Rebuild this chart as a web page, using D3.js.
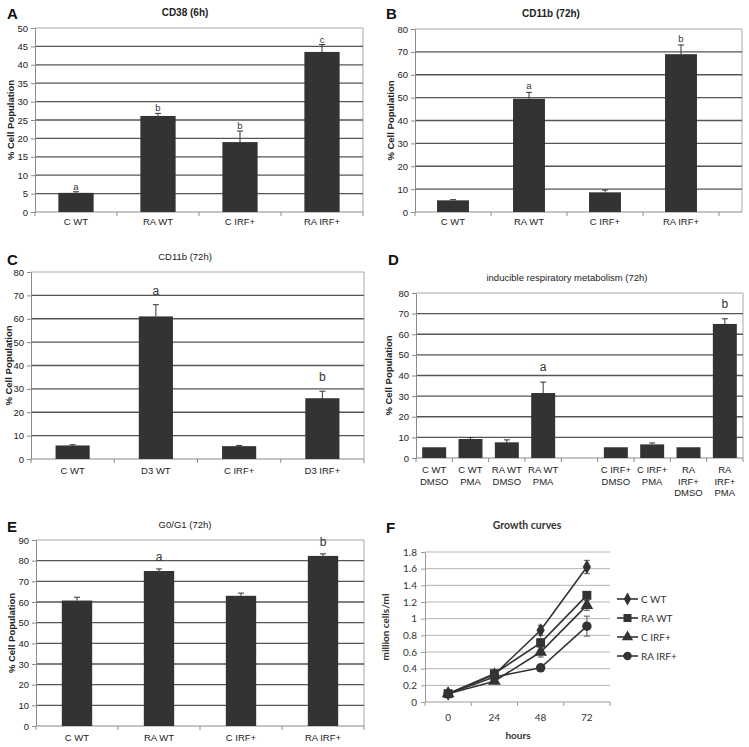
<!DOCTYPE html>
<html><head><meta charset="utf-8">
<script src="https://cdn.jsdelivr.net/npm/d3@7"></script>
<style>body{margin:0;background:#fff}</style></head>
<body>
<script>
// ---------- DATA ----------
const catsA = ["C WT", "RA WT", "C IRF+", "RA IRF+"];
const valsA = [5.2, 26.1, 19.0, 43.5];
const errA  = [0.3, 0.7, 3.0, 2.0];
const sigA  = ["a", "b", "b", "c"];
const ticksA = [0, 5, 10, 15, 20, 25, 30, 35, 40, 45, 50];

const catsB = ["C WT", "RA WT", "C IRF+", "RA IRF+"];
const valsB = [5.1, 49.5, 8.6, 69.0];
const errB  = [0.3, 2.8, 1.0, 4.0];
const sigB  = ["", "a", "", "b"];
const ticksB = [0, 10, 20, 30, 40, 50, 60, 70, 80];

const catsC = ["C WT", "D3 WT", "C IRF+", "D3 IRF+"];
const valsC = [5.8, 61.0, 5.5, 26.0];
const errC  = [0.3, 5.0, 0.3, 3.0];
const sigC  = ["", "a", "", "b"];
const ticksC = [0, 10, 20, 30, 40, 50, 60, 70, 80];

const catsD = ["C WT\nDMSO", "C WT\nPMA", "RA WT\nDMSO", "RA WT\nPMA", "",
               "C IRF+\nDMSO", "C IRF+\nPMA", "RA\nIRF+\nDMSO", "RA\nIRF+\nPMA"];
const valsD = [5.2, 9.2, 7.6, 31.5, null, 5.2, 6.6, 5.2, 65.0];
const errD  = [0, 0.7, 1.2, 5.3, null, 0, 0.7, 0, 2.5];
const sigD  = ["", "", "", "a", "", "", "", "", "b"];
const ticksD = [0, 10, 20, 30, 40, 50, 60, 70, 80];

const catsE = ["C WT", "RA WT", "C IRF+", "RA IRF+"];
const valsE = [60.7, 75.0, 63.0, 82.3];
const errE  = [1.6, 1.0, 1.3, 1.0];
const sigE  = ["", "a", "", "b"];
const ticksE = [0, 10, 20, 30, 40, 50, 60, 70, 80, 90];

const hoursF = ["0", "24", "48", "72"];
const seriesF = ["C WT", "RA WT", "C IRF+", "RA IRF+"];
const cWT    = [0.10, 0.33, 0.86, 1.62];
const cWTerr = [0.01, 0.02, 0.06, 0.08];
const raWT    = [0.10, 0.34, 0.71, 1.28];
const raWTerr = [0.01, 0.02, 0.05, 0.04];
const cIRF    = [0.10, 0.25, 0.60, 1.16];
const cIRFerr = [0.01, 0.02, 0.06, 0.06];
const raIRF    = [0.10, 0.30, 0.41, 0.91];
const raIRFerr = [0.01, 0.02, 0.03, 0.12];
const ticksF = [0, 0.2, 0.4, 0.6, 0.8, 1, 1.2, 1.4, 1.6, 1.8];
const tickLabelsF = ["0", "0.2", "0.4", "0.6", "0.8", "1", "1.2", "1.4", "1.6", "1.8"];

// ---------- DRAW ----------
const FONT = "'Liberation Sans', Arial, sans-serif";
const svg = d3.select("body").append("svg").attr("width", 749).attr("height", 747)
  .style("font-family", FONT);
const BAR = "#333333", GRID = "#555555", BORDER = "#a8a8a8", AXIS = "#8a8a8a";

function barPanel(o) {
  const g = svg.append("g");
  const n = o.cats.length;
  const x = d3.scaleBand().domain(d3.range(n)).range([o.x0, o.xb]).padding(0);
  const y = d3.scaleLinear().domain([0, o.ticks[o.ticks.length - 1]]).range([o.y1, o.y0]);
  g.append("path").attr("d", `M${o.x0},${o.y0}H${o.x1}V${o.y1}`)
    .attr("fill", "none").attr("stroke", BORDER).attr("stroke-width", 1);
  g.selectAll(".gl").data(o.ticks.slice(1, -1)).join("line")
    .attr("x1", o.x0).attr("x2", o.x1)
    .attr("y1", d => y(d)).attr("y2", d => y(d))
    .attr("stroke", GRID).attr("stroke-width", 1.3);
  const ya = g.append("g").attr("transform", `translate(${o.x0},0)`)
    .call(d3.axisLeft(y).tickValues(o.ticks).tickSize(4).tickPadding(3).tickSizeOuter(0));
  ya.select(".domain").attr("stroke", AXIS);
  ya.selectAll(".tick line").attr("stroke", AXIS);
  ya.selectAll(".tick text").attr("font-size", 9.5).attr("fill", "#222").attr("font-family", FONT);
  g.append("line").attr("x1", o.x0).attr("x2", o.x1).attr("y1", o.y1).attr("y2", o.y1)
    .attr("stroke", AXIS);
  g.selectAll(".xt").data(d3.range(n + 1)).join("line")
    .attr("x1", i => o.x0 + i * x.step()).attr("x2", i => o.x0 + i * x.step())
    .attr("y1", o.y1).attr("y2", o.y1 + 4).attr("stroke", AXIS);
  const bw = x.bandwidth() * o.barFrac;
  const idx = d3.range(n).filter(i => o.vals[i] != null);
  g.selectAll(".bar").data(idx).join("rect")
    .attr("x", i => x(i) + (x.bandwidth() - bw) / 2)
    .attr("y", i => y(o.vals[i]))
    .attr("width", bw).attr("height", i => y(0) - y(o.vals[i]))
    .attr("fill", BAR);
  const eb = idx.filter(i => o.errs[i] > 0);
  const cx = i => x(i) + x.bandwidth() / 2;
  g.selectAll(".eb").data(eb).join("path")
    .attr("d", i => `M${cx(i)},${y(o.vals[i])}V${y(o.vals[i] + o.errs[i])}M${cx(i) - 3},${y(o.vals[i] + o.errs[i])}H${cx(i) + 3}`)
    .attr("stroke", "#333").attr("stroke-width", 1).attr("fill", "none");
  g.selectAll(".sig").data(idx.filter(i => o.sig[i])).join("text")
    .attr("x", cx).attr("y", i => y(o.vals[i] + (o.errs[i] || 0)) - o.sigOff)
    .attr("text-anchor", "middle").attr("font-size", o.sigSize).attr("fill", "#333")
    .text(i => o.sig[i]);
  const cl = g.selectAll(".cl").data(d3.range(n)).join("text")
    .attr("text-anchor", "middle").attr("font-size", 9.5).attr("fill", "#222");
  cl.each(function (i) {
    const lines = o.cats[i].split("\n");
    const t = d3.select(this);
    lines.forEach((s, k) => t.append("tspan").attr("x", cx(i)).attr("y", o.catY + k * o.lineH).text(s));
  });
  g.append("text").attr("x", o.titleX).attr("y", o.titleY).attr("text-anchor", "middle")
    .attr("font-size", o.titleSize).attr("font-weight", o.titleBold ? "bold" : "normal")
    .attr("fill", "#222").text(o.title);
  g.append("text").attr("transform", `translate(${o.ylabX},${(o.y0 + o.y1) / 2}) rotate(-90)`)
    .attr("text-anchor", "middle").attr("font-size", 9.5).attr("font-weight", "bold")
    .attr("fill", "#222").text("% Cell Population");
  g.append("text").attr("x", o.px).attr("y", o.py).attr("font-size", 15)
    .attr("font-weight", "bold").attr("fill", "#111").text(o.panel);
}

barPanel({cats: catsA, vals: valsA, errs: errA, sig: sigA, ticks: ticksA,
  x0: 35, xb: 363, x1: 363, y0: 28, y1: 212, barFrac: 0.43, sigOff: 2, sigSize: 9.5,
  catY: 225, lineH: 11, title: "CD38 (6h)", titleBold: true, titleSize: 10, titleX: 185, titleY: 16,
  ylabX: 14, panel: "A", px: 7, py: 19});

barPanel({cats: catsB, vals: valsB, errs: errB, sig: sigB, ticks: ticksB,
  x0: 415, xb: 719, x1: 742, y0: 29, y1: 212, barFrac: 0.42, sigOff: 3, sigSize: 9.5,
  catY: 225, lineH: 11, title: "CD11b (72h)", titleBold: true, titleSize: 10, titleX: 551, titleY: 17,
  ylabX: 394, panel: "B", px: 386, py: 19});

barPanel({cats: catsC, vals: valsC, errs: errC, sig: sigC, ticks: ticksC,
  x0: 31, xb: 364, x1: 364, y0: 272, y1: 459, barFrac: 0.41, sigOff: 10, sigSize: 12,
  catY: 474, lineH: 11, title: "CD11b (72h)", titleBold: false, titleSize: 9.5, titleX: 185, titleY: 260,
  ylabX: 12, panel: "C", px: 7, py: 265});

barPanel({cats: catsD, vals: valsD, errs: errD, sig: sigD, ticks: ticksD,
  x0: 416, xb: 743, x1: 743, y0: 293, y1: 458, barFrac: 0.66, sigOff: 11, sigSize: 12,
  catY: 473, lineH: 11.5, title: "inducible respiratory metabolism (72h)", titleBold: false, titleSize: 9.5,
  titleX: 567, titleY: 281, ylabX: 392, panel: "D", px: 388, py: 265});

barPanel({cats: catsE, vals: valsE, errs: errE, sig: sigE, ticks: ticksE,
  x0: 36, xb: 364, x1: 364, y0: 540, y1: 726, barFrac: 0.37, sigOff: 8, sigSize: 12,
  catY: 741, lineH: 11, title: "G0/G1 (72h)", titleBold: false, titleSize: 9.5, titleX: 185, titleY: 528,
  ylabX: 15, panel: "E", px: 7, py: 532});

// ---------- Panel F: growth curves ----------
(function () {
  const FF = "Lato, 'Open Sans', sans-serif";
  const g = svg.append("g").style("font-family", FF);
  const x0 = 425, x1 = 610, y0 = 552, y1 = 702;
  const x = d3.scaleBand().domain(hoursF).range([x0, x1]);
  const y = d3.scaleLinear().domain([0, 1.8]).range([y1, y0]);
  g.selectAll(".gl").data(ticksF.slice(1)).join("line")
    .attr("x1", x0).attr("x2", x1).attr("y1", d => y(d)).attr("y2", d => y(d))
    .attr("stroke", "#b4b4b4").attr("stroke-width", 1);
  const ya = g.append("g").attr("transform", `translate(${x0},0)`)
    .call(d3.axisLeft(y).tickValues(ticksF).tickFormat((d, i) => tickLabelsF[i]).tickSize(4).tickPadding(4).tickSizeOuter(0));
  ya.select(".domain").attr("stroke", "#999");
  ya.selectAll(".tick line").attr("stroke", "#999");
  ya.selectAll(".tick text").attr("font-size", 10).attr("fill", "#333").attr("font-family", FF);
  g.append("line").attr("x1", x0).attr("x2", x1).attr("y1", y1).attr("y2", y1).attr("stroke", "#999");
  g.selectAll(".xt").data(d3.range(hoursF.length + 1)).join("line")
    .attr("x1", i => x0 + i * x.step()).attr("x2", i => x0 + i * x.step())
    .attr("y1", y1).attr("y2", y1 + 4).attr("stroke", "#999");
  g.selectAll(".xl").data(hoursF).join("text")
    .attr("x", d => x(d) + x.bandwidth() / 2).attr("y", 721).attr("text-anchor", "middle")
    .attr("font-size", 10).attr("fill", "#333").text(d => d);

  const vals = [cWT, raWT, cIRF, raIRF];
  const errs = [cWTerr, raWTerr, cIRFerr, raIRFerr];
  const shapes = [d3.symbolDiamond, d3.symbolSquare, d3.symbolTriangle, d3.symbolCircle];
  const sizes = [60, 80, 70, 70];
  const px = d => x(d) + x.bandwidth() / 2;
  const line = d3.line().x((d, i) => px(hoursF[i])).y(d => y(d));
  vals.forEach((v) => {
    g.append("path").attr("d", line(v)).attr("fill", "none").attr("stroke", "#333").attr("stroke-width", 1.6);
  });
  vals.forEach((v, s) => {
    g.selectAll(null).data(v).join("path")
      .attr("d", (d, i) => {
        const cx = px(hoursF[i]), e = errs[s][i];
        return `M${cx},${y(d - e)}V${y(d + e)}M${cx - 3},${y(d + e)}H${cx + 3}M${cx - 3},${y(d - e)}H${cx + 3}`;
      })
      .attr("stroke", "#555").attr("stroke-width", 1).attr("fill", "none");
    g.selectAll(null).data(v).join("path")
      .attr("transform", (d, i) => `translate(${px(hoursF[i])},${y(d)})`)
      .attr("d", d3.symbol().type(shapes[s]).size(sizes[s]))
      .attr("fill", "#333");
  });
  seriesF.forEach((name, s) => {
    const ly = 599 + s * 19;
    g.append("line").attr("x1", 617).attr("x2", 638).attr("y1", ly).attr("y2", ly)
      .attr("stroke", "#333").attr("stroke-width", 1.6);
    g.append("path").attr("transform", `translate(627.5,${ly})`)
      .attr("d", d3.symbol().type(shapes[s]).size(sizes[s] * 0.8)).attr("fill", "#333");
    g.append("text").attr("x", 641).attr("y", ly + 3.5).attr("font-size", 10).attr("fill", "#333").text(name);
  });
  g.append("text").attr("x", 527).attr("y", 529).attr("text-anchor", "middle")
    .attr("font-size", 10.5).attr("font-weight", "bold").attr("fill", "#333").text("Growth curves");
  g.append("text").attr("x", 518).attr("y", 739).attr("text-anchor", "middle")
    .attr("font-size", 10).attr("font-weight", "bold").attr("fill", "#333").text("hours");
  g.append("text").attr("transform", `translate(389,${(y0 + y1) / 2}) rotate(-90)`)
    .attr("text-anchor", "middle").attr("font-size", 10).attr("font-weight", "bold")
    .attr("fill", "#333").text("million cells/ml");
  svg.append("text").attr("x", 386).attr("y", 533).attr("font-size", 15).attr("font-weight", "bold")
    .attr("fill", "#111").style("font-family", FONT).text("F");
})();
</script>
</body></html>
